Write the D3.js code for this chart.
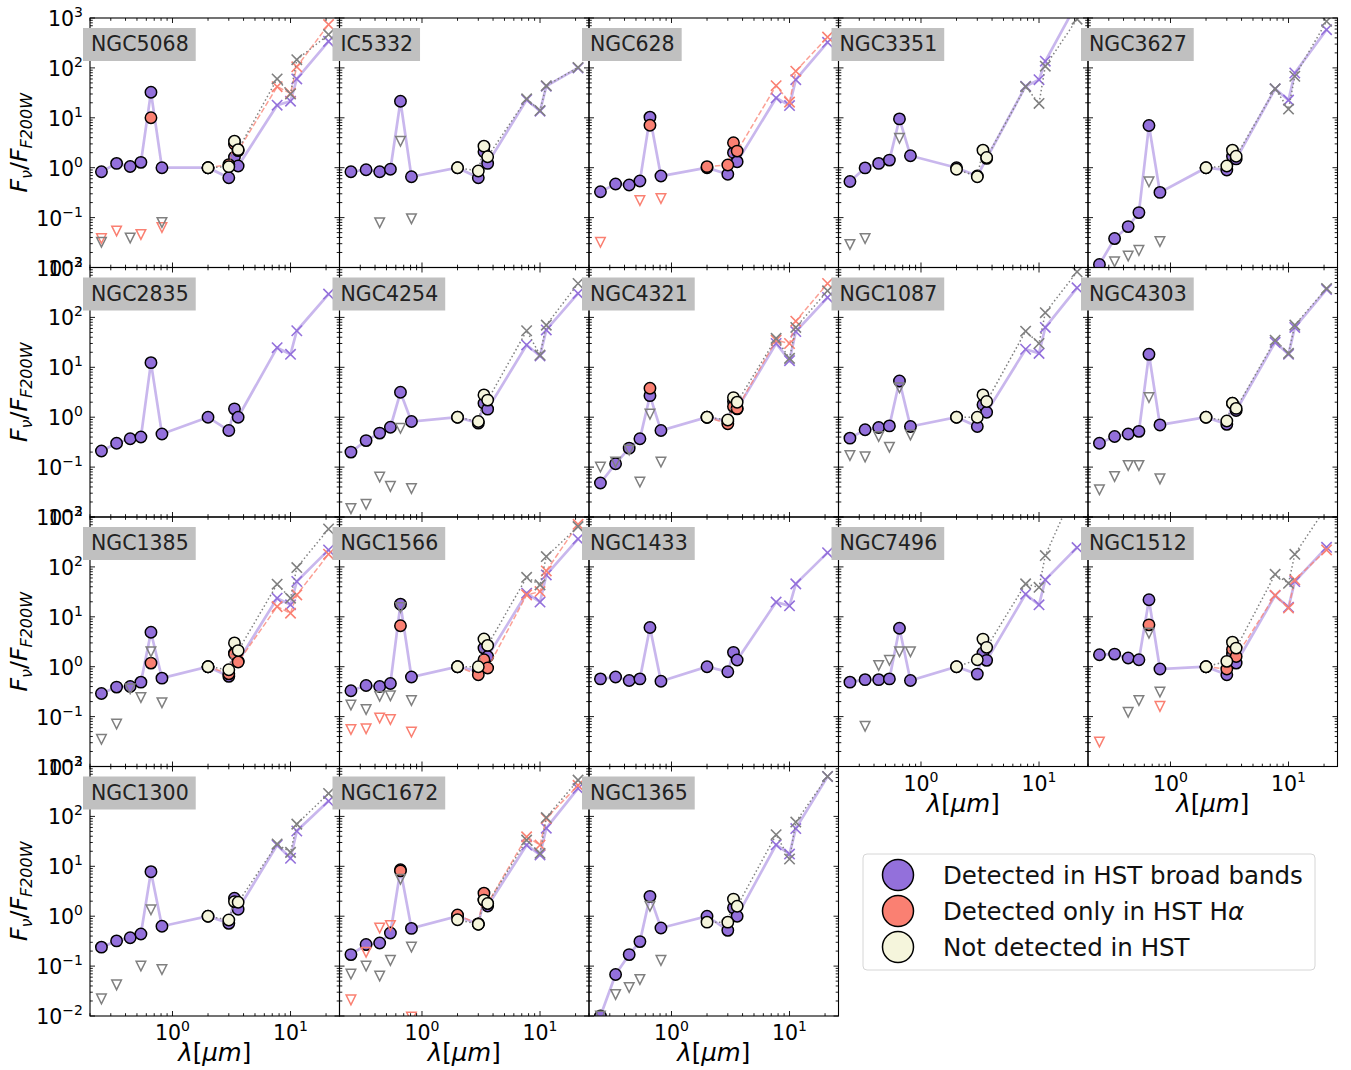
<!DOCTYPE html>
<html><head><meta charset="utf-8">
<script src="https://cdn.jsdelivr.net/npm/d3@7"></script>
<style>body{margin:0;background:#fff} text{font-family:"DejaVu Sans",sans-serif}</style>
</head><body><svg id="fig" width="1351" height="1070"></svg>
<script>
// Filter pivot wavelengths (micron): HST F275W..F814W, NIRCam F200W..F360M, MIRI F770W..F2100W
const wavelengths = [0.25, 0.336, 0.438, 0.54, 0.657, 0.814, 2.0, 3.0, 3.35, 3.6, 7.7, 10.0, 11.3, 21.0];
const galaxies = ["NGC5068","IC5332","NGC628","NGC3351","NGC3627",
                  "NGC2835","NGC4254","NGC4321","NGC1087","NGC4303",
                  "NGC1385","NGC1566","NGC1433","NGC7496","NGC1512",
                  "NGC1300","NGC1672","NGC1365"];
const yTicks = [-2, -1, 0, 1, 2, 3];
const xTicks = [0, 1];

// Median SEDs (F_nu / F_F200W) of clusters detected in HST broad bands
const broadBand = [
  [0.83,1.22,1.06,1.28,32.6,1.0, 1.0,0.63,1.63,1.08, 17.9,21.5,60,340],
  [0.83,0.91,0.83,0.93,21.5,0.66, 1.0,0.63,2.09,1.22, 23,13.6,43,100],
  [0.33,0.47,0.45,0.54,10.3,0.68, 1.0,0.74,2.0,1.32, 25,17.6,58,326],
  [0.53,0.99,1.22,1.42,9.5,1.74, 1.0,0.68,null,1.54, 43,58,136,2000],
  [0.0115,0.038,0.066,0.126,7.0,0.32, 1.0,0.9,1.7,1.5, 38,22.6,79,584],
  [0.21,0.30,0.37,0.40,12.4,0.46, 1.0,0.54,1.47,1.0, 24.7,18.2,54,293],
  [0.2,0.34,0.48,0.63,3.16,0.82, 1.0,0.76,1.9,1.45, 28,16.9,56,302],
  [0.048,0.117,0.24,0.37,2.7,0.54, 1.0,0.82,2.06,1.47, 30,13.6,52,251],
  [0.38,0.56,0.62,0.67,5.3,0.65, 1.0,0.65,1.77,1.26, 23,19,63,392],
  [0.30,0.41,0.46,0.52,18.2,0.70, 1.0,0.72,1.9,1.36, 31.6,18.2,63,363],
  [0.29,0.39,0.40,0.49,4.9,0.59, 1.0,0.64,1.88,1.28, 23.6,17.4,51,219],
  [0.33,0.42,0.40,0.46,17.9,0.62, 1.0,0.81,2.36,1.6, 29.7,19.7,69,363],
  [0.57,0.62,0.53,0.57,6.1,0.51, 1.0,0.79,1.94,1.36, 19.7,16.6,45.7,193],
  [0.49,0.55,0.55,0.57,5.9,0.53, 1.0,0.71,1.88,1.34, 28.4,17.4,55,244],
  [1.74,1.79,1.49,1.38,21.9,0.9, 1.0,0.69,1.79,1.18, 26.7,15.6,51,247],
  [0.24,0.32,0.37,0.44,7.8,0.63, 1.0,0.72,2.29,1.38, 26.7,14.5,51,203],
  [0.17,0.27,0.29,0.46,8.5,0.57, 1.0,0.7,2.1,1.6, 26.7,16.9,58,363],
  [0.01,0.068,0.17,0.31,2.5,0.58, 1.0,0.52,1.47,1.0, 27,17.6,57,631]
];

// Clusters detected only in H-alpha (broad-band entries are upper limits)
const halphaOnly = [
  [0.038,0.054,null,0.046,10,0.063, 1.0,1.15,3.0,2.2, 42,31,105,740],
  null,
  [0.032,null,null,0.22,7.1,0.24, 1.05,1.13,3.16,2.15, 44,20.6,86,415],
  null, null, null, null,
  [null,null,null,null,3.8,null, 1.0,0.74,1.63,1.5, 35,30,84,478],
  null, null,
  [null,null,null,null,1.18,null, 1.0,0.72,1.8,1.24, 16,11.8,27.5,180],
  [0.055,0.057,0.094,0.087,6.6,0.049, 1.0,0.69,1.38,0.94, 27.5,32,83,713],
  null, null,
  [0.031,null,null,null,6.9,0.16, 1.0,0.9,2.2,1.6, 27,15,55,219],
  null,
  [0.021,0.19,0.58,0.65,8.1,0.0095, 1.06,0.7,2.9,1.8, 39,26.7,91,420],
  null
];

// Clusters not detected in HST (all HST entries are upper limits)
const undetected = [
  [0.032,null,0.039,null,null,0.08, 1.0,1.05,3.4,2.3, 60,30,146,465],
  [null,null,0.079,null,3.4,0.095, 1.0,0.86,2.7,1.66, 24,14,44,102],
  null,
  [0.029,0.038,null,null,3.9,null, 0.93,0.66,2.25,1.6, 42,19.4,108,950],
  [null,0.013,0.017,0.022,0.52,0.033, 1.0,1.08,2.25,1.7, 38,15,68,858],
  null,
  [0.0147,0.018,0.063,0.041,0.6,0.037, 1.0,0.82,2.8,2.2, 54,17.6,70,478],
  [0.1,0.126,0.22,0.05,1.15,0.126, 1.0,0.88,2.47,2.0, 38,15.1,63,341],
  [0.17,0.16,0.41,0.25,3.9,0.44, 1.0,1.0,2.8,2.06, 53,30,124,819],
  [0.035,0.065,0.108,0.108,2.47,0.058, 1.0,0.84,1.9,1.5, 35,19,70,380],
  [0.035,0.071,0.36,0.24,2.0,0.19, 1.0,0.87,3.0,2.1, 45,23.6,97,575],
  [0.17,0.138,0.255,0.26,15.4,0.21, 1.0,1.0,3.6,2.67, 62,43.6,161,641],
  null,
  [null,0.064,1.06,1.34,2.0,2.0, 1.0,1.38,3.57,2.44, 45.7,39,169,4500],
  [null,null,0.122,0.21,4.7,0.31, 1.0,1.28,3.1,2.36, 71,47,179,1600],
  [0.022,0.042,null,0.1,1.34,0.085, 1.0,0.84,1.96,1.9, 28,19,70,288],
  [0.069,0.1,0.063,0.13,5.5,0.24, 0.85,0.69,2.1,1.8, 33.6,18.2,95,533],
  [0.01,0.027,0.037,0.054,1.58,0.13, 0.76,0.76,2.2,1.58, 43,14,77,631]
];

const legendLabels = ["Detected in HST broad bands", "Detected only in HST H", "Not detected in HST"];

const PURPLE = "#9370DB", SALMON = "#FA8072", BEIGE = "#F5F5DC", GRAY = "#808080";
const PW = 249.5, PH = 249.5, LEFT = 90, TOP = 18, NCOL = 5;

const svg = d3.select("#fig");
const x = d3.scaleLog().domain([0.2, 26]).range([0, PW]);
const y = d3.scaleLog().domain([0.01, 1000]).range([PH, 0]);

// series style: which band indices are upper limits, which are circles, which are MIRI crosses
const seriesDefs = [
  {data: broadBand, color: PURPLE, fill: PURPLE, lineFrom: 0, ul: [], lineColor: PURPLE, lineOpacity: 0.5, lineWidth: 2.7, dash: null},
  {data: halphaOnly, color: SALMON, fill: SALMON, lineFrom: 6, ul: [0,1,2,3,5], lineColor: SALMON, lineOpacity: 0.75, lineWidth: 1.5, dash: "5.5,2.4"},
  {data: undetected, color: GRAY, fill: BEIGE, lineFrom: 6, ul: [0,1,2,3,4,5], lineColor: GRAY, lineOpacity: 1, lineWidth: 1.5, dash: "1.5,2.5"}
];

function pow10(sel, e) {
  sel.append("tspan").text("10");
  sel.append("tspan").attr("dy", -9).attr("font-size", 14).text(e < 0 ? "\u2212" + (-e) : String(e));
}

const lineGen = d3.line().x(d => x(d[0])).y(d => y(d[1]));

galaxies.forEach((name, gi) => {
  const col = gi % NCOL, row = Math.floor(gi / NCOL);
  const g = svg.append("g").attr("transform", `translate(${LEFT + col * PW},${TOP + row * PH})`);
  const clipId = "clip" + gi;
  g.append("clipPath").attr("id", clipId).append("rect").attr("width", PW).attr("height", PH);
  const plot = g.append("g").attr("clip-path", `url(#${clipId})`);

  seriesDefs.forEach(s => {
    const vals = s.data[gi];
    if (!vals) return;
    const pts = vals.map((v, i) => [wavelengths[i], v, i]).filter(p => p[1] != null);
    const linePts = pts.filter(p => p[2] >= s.lineFrom && !s.ul.includes(p[2]));
    plot.append("path").attr("d", lineGen(linePts)).attr("fill", "none")
      .attr("stroke", s.lineColor).attr("stroke-opacity", s.lineOpacity)
      .attr("stroke-width", s.lineWidth).attr("stroke-dasharray", s.dash);
    pts.forEach(p => {
      const cx = x(p[0]), cy = y(p[1]), i = p[2];
      if (s.ul.includes(i)) {
        const r = 4.8;
        plot.append("path").attr("d", `M${cx - r},${cy - r}L${cx + r},${cy - r}L${cx},${cy + r}Z`)
          .attr("fill", "none").attr("stroke", s.color).attr("stroke-width", 1.5);
      } else if (i >= 10) {
        const r = 5.2;
        plot.append("path").attr("d", `M${cx - r},${cy - r}L${cx + r},${cy + r}M${cx - r},${cy + r}L${cx + r},${cy - r}`)
          .attr("stroke", s.color).attr("stroke-width", 1.6);
      } else {
        plot.append("circle").attr("cx", cx).attr("cy", cy).attr("r", 5.7)
          .attr("fill", s.fill).attr("stroke", "#000").attr("stroke-width", 1.5);
      }
    });
  });

  // ticks, pointing inward on all four sides
  const tk = g.append("g").attr("stroke", "#000").attr("stroke-width", 0.9);
  for (let e = -2; e <= 3; e++) {
    for (let m = 1; m <= 9; m++) {
      const v = m * Math.pow(10, e);
      if (v > 1000) break;
      const yy = y(v), len = m === 1 ? 5 : 2.8;
      tk.append("line").attr("x1", 0).attr("x2", len).attr("y1", yy).attr("y2", yy);
      tk.append("line").attr("x1", PW).attr("x2", PW - len).attr("y1", yy).attr("y2", yy);
    }
  }
  for (let e = -1; e <= 1; e++) {
    for (let m = 1; m <= 9; m++) {
      const v = m * Math.pow(10, e);
      if (v < 0.2 || v > 26) continue;
      const xx = x(v), len = m === 1 ? 5 : 2.8;
      tk.append("line").attr("y1", 0).attr("y2", len).attr("x1", xx).attr("x2", xx);
      tk.append("line").attr("y1", PH).attr("y2", PH - len).attr("x1", xx).attr("x2", xx);
    }
  }
  g.append("rect").attr("width", PW).attr("height", PH).attr("fill", "none")
    .attr("stroke", "#000").attr("stroke-width", 1.1);

  // galaxy name tag
  const tag = g.append("g");
  const box = tag.append("rect").attr("x", -7).attr("y", 10).attr("height", 33).attr("fill", "#c0c0c0");
  const t = tag.append("text").attr("x", 1).attr("y", 33).attr("font-size", 20.5).attr("fill", "#222").text(name);
  box.attr("width", t.node().getComputedTextLength() + 15);

  // y tick labels on the first column
  if (col === 0) {
    yTicks.forEach(e => {
      const lt = g.append("text").attr("x", -7).attr("y", y(Math.pow(10, e)) + 8)
        .attr("text-anchor", "end").attr("font-size", 20.5);
      pow10(lt, e);
    });
    const yl = g.append("text").attr("transform", `translate(${27 - LEFT},${PH / 2}) rotate(-90)`)
      .attr("text-anchor", "middle").attr("font-size", 23.5).attr("font-style", "italic");
    yl.append("tspan").text("F");
    yl.append("tspan").attr("font-size", 16).attr("dy", 5).text("\u03bd");
    yl.append("tspan").attr("dy", -5).attr("font-style", "normal").text("/");
    yl.append("tspan").text("F");
    yl.append("tspan").attr("font-size", 16).attr("dy", 5).text("F200W");
  }

  // x tick labels on the bottom panel of each column
  const bottom = (row === 3) || (row === 2 && col >= 3);
  if (bottom) {
    xTicks.forEach(e => {
      const lt = g.append("text").attr("x", x(Math.pow(10, e))).attr("y", PH + 24)
        .attr("text-anchor", "middle").attr("font-size", 20.5);
      pow10(lt, e);
    });
    const xl = g.append("text").attr("x", PW / 2).attr("y", PH + 45)
      .attr("text-anchor", "middle").attr("font-size", 24.5);
    xl.append("tspan").attr("font-style", "italic").text("\u03bb");
    xl.append("tspan").text("[");
    xl.append("tspan").attr("font-style", "italic").text("\u03bcm");
    xl.append("tspan").text("]");
  }
});

// legend
const lg = svg.append("g").attr("transform", "translate(863,854)");
lg.append("rect").attr("width", 452).attr("height", 116).attr("rx", 4)
  .attr("fill", "#fff").attr("stroke", "#d6d6d6").attr("stroke-width", 1);
const legendFills = [PURPLE, SALMON, BEIGE];
legendLabels.forEach((lab, i) => {
  const cy = 21 + i * 36;
  lg.append("circle").attr("cx", 35).attr("cy", cy).attr("r", 15.5)
    .attr("fill", legendFills[i]).attr("stroke", "#000").attr("stroke-width", 1.5);
  const tx = lg.append("text").attr("x", 80).attr("y", cy + 8.5).attr("font-size", 24.5).attr("fill", "#111").text(lab);
  if (i === 1) tx.append("tspan").attr("font-style", "italic").text("\u03b1");
});
</script></body></html>
